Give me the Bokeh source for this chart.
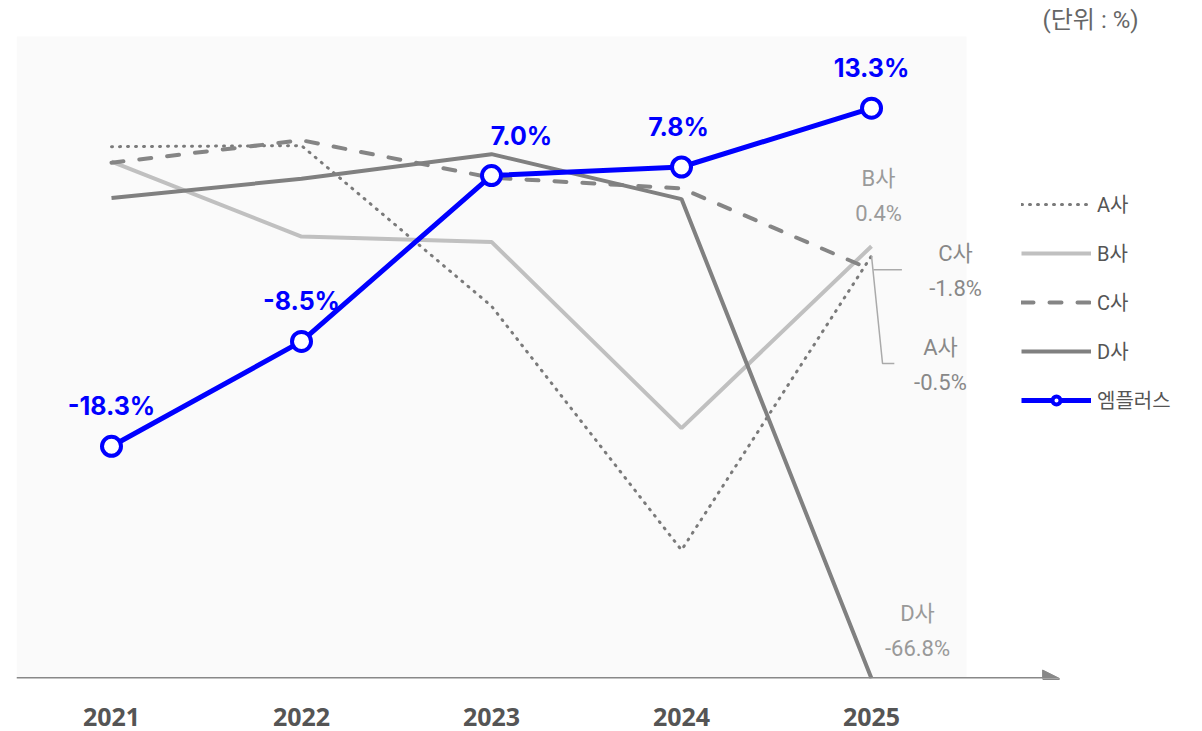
from bokeh.plotting import figure
from bokeh.models import (ColumnDataSource, BoxAnnotation, Arrow, NormalHead, Legend, LegendItem,
                          Label, FixedTicker)
from bokeh.core.properties import value
from bokeh.embed import file_html
from bokeh.resources import INLINE

years = ["2021", "2022", "2023", "2024", "2025"]
a_vals = [9.7, 9.8, -5.2, -28.0, -0.5]
b_vals = [8.3, 1.3, 0.8, -16.6, 0.4]
c_vals = [8.2, 10.3, 6.8, 5.8, -1.8]
d_vals = [4.9, 6.7, 9.0, 4.8, -66.8]
m_vals = [-18.3, -8.5, 7.0, 7.8, 13.3]
m_labels = ["-18.3%", "-8.5%", "7.0%", "7.8%", "13.3%"]
series_names = ["A사", "B사", "C사", "D사", "엠플러스"]

xs = list(range(len(years)))
KR = "Roboto, Noto Sans CJK KR"
Y_MIN, Y_BOX_TOP = -40, 20

p = figure(width=1202, height=731, output_backend="svg", toolbar_location=None,
           x_range=(-0.5, 5.742), y_range=(Y_MIN, 23.36),
           min_border_left=16, min_border_right=0, min_border_top=0, min_border_bottom=53)
p.outline_line_color = None
p.background_fill_color = "white"
p.border_fill_color = "white"
p.grid.visible = False
p.yaxis.visible = False

p.add_layout(BoxAnnotation(left=-0.5, right=4.5, bottom=Y_MIN, top=Y_BOX_TOP,
                           fill_color="#fafafa", fill_alpha=1, line_color=None, level="underlay"))

# x axis labels
ax = p.xaxis[0]
ax.ticker = FixedTicker(ticks=xs)
ax.major_label_overrides = {i: y for i, y in enumerate(years)}
ax.axis_line_color = None
ax.major_tick_line_color = None
ax.minor_tick_line_color = None
ax.major_label_standoff = 23
ax.major_label_text_font = "Open Sans"
ax.major_label_text_font_style = "bold"
ax.major_label_text_font_size = "25px"
ax.major_label_text_color = "#555555"

# axis arrow
p.add_layout(Arrow(x_start=-0.5, y_start=Y_MIN, x_end=4.99, y_end=Y_MIN,
                   line_color="#888888", line_width=3,
                   end=NormalHead(size=17, fill_color="#888888", line_color="#888888")))

# D사 falls below the visible axis: drawn clamped to the axis floor
d_plot = [max(v, Y_MIN) for v in d_vals]

src = ColumnDataSource(dict(x=xs, a=a_vals, b=b_vals, c=c_vals, d=d_plot, m=m_vals, ml=m_labels,
                            xo=[0, 0, 30, -3, 0]))

ra = p.line("x", "a", source=src, line_color="#7a7a7a", line_width=3, line_dash="1 7", line_cap="round")
rb = p.line("x", "b", source=src, line_color="#c0c0c0", line_width=4)
rc = p.line("x", "c", source=src, line_color="#858585", line_width=4, line_dash="12 16", line_cap="round")
rd = p.line("x", "d", source=src, line_color="#808080", line_width=4)
rm = p.line("x", "m", source=src, line_color="#0000ff", line_width=5)
rmc = p.scatter("x", "m", source=src, size=19, fill_color="white", line_color="#0000ff", line_width=4)

p.text("x", "m", text="ml", source=src, x_offset="xo", y_offset=-40,
       text_align="center", text_baseline="middle", text_color="#0000ff",
       text_font=value("Inter"), text_font_style="bold", text_font_size="25px")

# leader lines for end labels
last = len(xs) - 1
p.line([xs[last] + 0.01, xs[last] + 0.16], [c_vals[last], c_vals[last]], line_color="#aaaaaa", line_width=1.5)
p.line([xs[last], xs[last] + 0.058, xs[last] + 0.12], [a_vals[last], -10.56, -10.56],
       line_color="#aaaaaa", line_width=1.5)

end_labels = [
    (series_names[1], "%.1f%%" % b_vals[last], 0.037, 6.73, "#9a9a9a"),
    (series_names[2], "%.1f%%" % c_vals[last], 0.442, -0.28, "#888888"),
    (series_names[0], "%.1f%%" % a_vals[last], 0.363, -9.07, "#888888"),
    (series_names[3], "%.1f%%" % d_vals[last], 0.242, -33.93, "#999999"),
]
for name, val, dx, ytop, col in end_labels:
    p.add_layout(Label(x=xs[last] + dx, y=ytop, text=name, text_align="center", text_baseline="middle",
                       text_font=KR, text_font_size="22px", text_color=col))
    p.add_layout(Label(x=xs[last] + dx, y=ytop - 3.3, text=val, text_align="center", text_baseline="middle",
                       text_font=KR, text_font_size="22px", text_color=col))

p.add_layout(Label(x=5.153, y=21.5, text="(단위 : %)", text_align="center", text_baseline="middle",
                   text_font=KR, text_font_size="24px", text_color="#666666"))

legend = Legend(items=[LegendItem(label=series_names[0], renderers=[ra]),
                       LegendItem(label=series_names[1], renderers=[rb]),
                       LegendItem(label=series_names[2], renderers=[rc]),
                       LegendItem(label=series_names[3], renderers=[rd]),
                       LegendItem(label=series_names[4], renderers=[rm, rmc])],
                location=(1005, 264), orientation="vertical",
                glyph_width=70, glyph_height=20, label_height=20, spacing=20,
                label_standoff=6, padding=0, margin=0,
                border_line_color=None, background_fill_alpha=0,
                label_text_font=KR, label_text_font_size="20px", label_text_color="#555555")
p.add_layout(legend)

open("out.html", "w").write(file_html(p, INLINE))
